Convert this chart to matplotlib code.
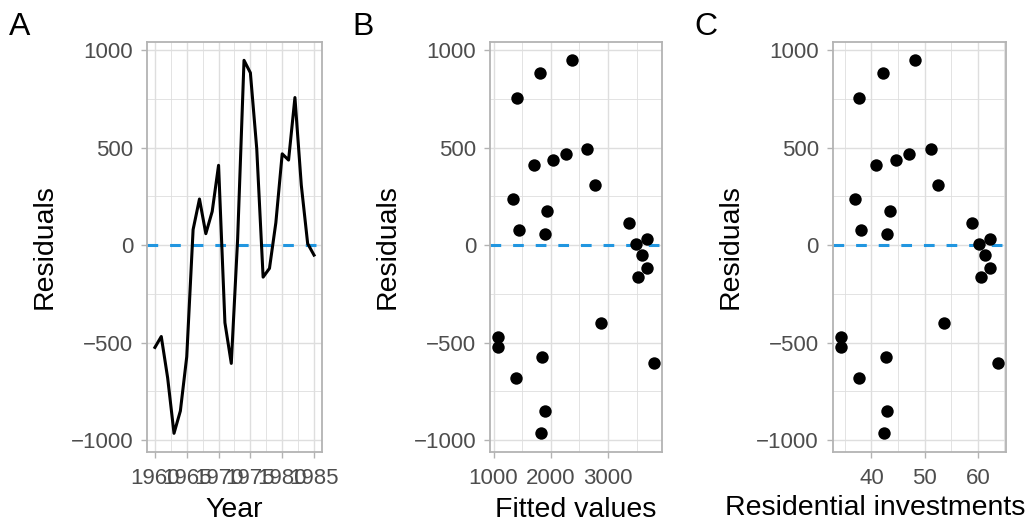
import numpy as np
import matplotlib
matplotlib.use("Agg")
import matplotlib.pyplot as plt
from matplotlib.ticker import MultipleLocator

plt.rcParams["font.family"] = ["Liberation Sans", "DejaVu Sans"]

#___data___#
years = list(range(1960, 1986))
residuals = [-525, -469, -681, -966, -851, -573, 80, 237, 59, 173, 410, -398, -607,
             34, 949, 885, 495, -164, -119, 115, 469, 437, 758, 308, 8, -51]
fitted = [1075, 1075, 1393, 1838, 1902, 1855, 1451, 1335, 1902, 1942, 1699, 2879, 3809,
          3676, 2376, 1815, 2636, 3526, 3688, 3376, 2272, 2046, 1410, 2780, 3486, 3590]
investments = [34.2, 34.2, 37.6, 42.4, 43.0, 42.7, 38.1, 37.0, 43.0, 43.4, 40.9, 53.6, 63.75,
               62.2, 48.1, 42.1, 51.1, 60.6, 62.3, 58.9, 47.0, 44.6, 37.7, 52.6, 60.2, 61.3]

#___styling helpers (ggplot theme_light look)___#
grid_col = "#DEDEDE"
border_col = "#B3B3B3"
text_col = "#4D4D4D"
zero_col = "#2196E0"

def style_axes(ax, xmajor, xminor):
    ax.yaxis.set_major_locator(MultipleLocator(500))
    ax.yaxis.set_minor_locator(MultipleLocator(250))
    ax.xaxis.set_major_locator(MultipleLocator(xmajor))
    ax.xaxis.set_minor_locator(MultipleLocator(xminor))
    ax.grid(True, which="major", color=grid_col, linewidth=1.0)
    ax.grid(True, which="minor", color=grid_col, linewidth=0.6)
    ax.set_axisbelow(True)
    for s in ax.spines.values():
        s.set_color(border_col)
        s.set_linewidth(1.3)
    ax.tick_params(which="major", length=4.5, width=1.0, color=border_col,
                   labelsize=16, labelcolor=text_col, pad=5.5)
    ax.tick_params(axis="x", which="major", pad=7)
    ax.tick_params(which="minor", length=0)
    ax.axhline(0, color=zero_col, linewidth=2.2, dashes=(3.5, 3.9), zorder=1.5)
    ax.set_ylabel("Residuals", fontsize=20.5, labelpad=9)

fig = plt.figure(figsize=(10.32, 5.23), dpi=100)
bottom = 0.1358
height = 0.7845
axA = fig.add_axes([0.1424, bottom, 0.1696, height])
axB = fig.add_axes([0.4748, bottom, 0.1667, height])
axC = fig.add_axes([0.8069, bottom, 0.1676, height])

#___panel A: residuals over time___#
axA.plot(years, residuals, color="black", linewidth=2.2, zorder=3)
style_axes(axA, 5, 2.5)
axA.set_xlabel("Year", fontsize=20.5, labelpad=5.5)

#___panel B: residuals vs fitted___#
axB.scatter(fitted, residuals, s=80, color="black", zorder=3, linewidths=0)
style_axes(axB, 1000, 500)
axB.set_xlabel("Fitted values", fontsize=20.5, labelpad=5.5)

#___panel C: residuals vs residential investments___#
axC.scatter(investments, residuals, s=80, color="black", zorder=3, linewidths=0)
style_axes(axC, 10, 5)
axC.set_xlabel("Residential investments", fontsize=20.5, ha="right")
axC.xaxis.set_label_coords(1.111, -0.104)

for ax, lab, x in [(axA, "A", 0.009), (axB, "B", 0.341), (axC, "C", 0.673)]:
    fig.text(x, 0.978, lab, fontsize=23, va="top", ha="left")

fig.savefig("out.png", dpi=100)
